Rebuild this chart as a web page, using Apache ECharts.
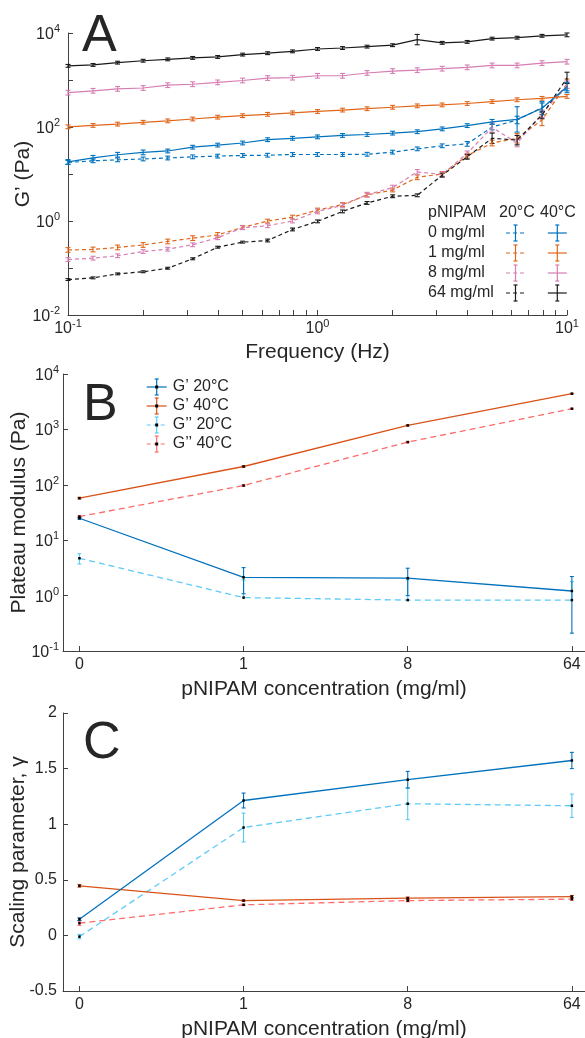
<!DOCTYPE html>
<html>
<head>
<meta charset="utf-8">
<script src="https://cdn.jsdelivr.net/npm/echarts@6/dist/echarts.min.js"></script>
<style>html,body{margin:0;padding:0;background:#fff}#main{width:585px;height:1038px}</style>
</head>
<body>
<div id="main"></div>
<script>
// ---------- panel A data : storage modulus vs frequency ----------
var freq = [0.1, 0.126, 0.158, 0.2, 0.251, 0.316, 0.398, 0.501, 0.631, 0.794, 1,
            1.26, 1.58, 2, 2.51, 3.16, 3.98, 5.01, 6.31, 7.94, 10];
var freqTicks = [0.1, 0.2, 0.3, 0.4, 0.5, 0.6, 0.7, 0.8, 0.9, 1, 2, 3, 4, 5, 6, 7, 8, 9, 10];
var freqLabels = [0.1, 1, 10];
var gTicks = [0.01, 0.1, 1, 10, 100, 1000, 10000];
var gLabels = [0.01, 1, 100, 10000];

// values (Pa), 20°C = dashed, 40°C = solid
var a0_20 = [17.6, 19.1, 20.0, 20.9, 21.9, 23.2, 24.0, 24.8, 25.1, 26.0, 26.0, 26.0, 26.3, 29.2, 34.3, 39.8, 43.7, 100, 141, 257, 676];
var a0_40 = [18.1, 22.1, 25.7, 28.8, 30.9, 37.2, 41.2, 45.7, 53.7, 57.5, 61.7, 66.1, 69.2, 74.1, 79.4, 91.2, 107, 129, 145, 251, 724];
var a1_20 = [0.242, 0.248, 0.274, 0.309, 0.367, 0.432, 0.506, 0.731, 0.995, 1.21, 1.71, 2.24, 3.58, 4.57, 8.51, 10.0, 24.5, 45.7, 57.5, 141, 832];
var a1_40 = [101, 108, 115, 126, 135, 148, 162, 174, 186, 200, 214, 229, 245, 263, 282, 295, 316, 347, 380, 407, 447];
var a8_20 = [0.151, 0.162, 0.182, 0.224, 0.251, 0.312, 0.441, 0.719, 0.794, 1.0, 1.60, 2.15, 3.63, 5.13, 11.1, 9.77, 27.5, 97.7, 45.7, 191, 794];
var a8_40 = [537, 589, 646, 676, 776, 813, 891, 977, 1100, 1120, 1230, 1230, 1410, 1550, 1620, 1740, 1860, 2040, 2040, 2290, 2450];
var a64_20 = [0.0568, 0.0617, 0.075, 0.0832, 0.0989, 0.157, 0.277, 0.355, 0.385, 0.661, 0.982, 1.60, 2.42, 3.36, 3.52, 9.42, 23.2, 57.5, 52.5, 180, 1110];
var a64_40 = [2000, 2090, 2340, 2570, 2750, 2950, 3090, 3470, 3720, 4070, 4570, 4790, 5130, 5500, 7240, 6170, 6460, 7590, 7940, 8710, 9120];

// error bar half widths (decades)
var e0_20 = [0.04, 0.04, 0.04, 0.04, 0.04, 0.04, 0.04, 0.04, 0.04, 0.04, 0.04, 0.04, 0.04, 0.04, 0.04, 0.04, 0.05, 0.06, 0.08, 0.1, 0.1];
var e0_40 = [0.05, 0.05, 0.05, 0.05, 0.04, 0.04, 0.04, 0.04, 0.04, 0.04, 0.04, 0.04, 0.04, 0.04, 0.04, 0.04, 0.04, 0.05, 0.27, 0.14, 0.09];
var e1_20 = [0.05, 0.05, 0.05, 0.05, 0.05, 0.05, 0.05, 0.04, 0.04, 0.04, 0.04, 0.04, 0.04, 0.04, 0.05, 0.05, 0.05, 0.06, 0.1, 0.12, 0.1];
var e1_40 = [0.04, 0.04, 0.04, 0.04, 0.04, 0.04, 0.04, 0.04, 0.04, 0.04, 0.04, 0.04, 0.04, 0.04, 0.04, 0.04, 0.04, 0.04, 0.04, 0.04, 0.04];
var e8_20 = [0.04, 0.04, 0.04, 0.04, 0.04, 0.04, 0.04, 0.04, 0.04, 0.04, 0.05, 0.05, 0.05, 0.05, 0.05, 0.05, 0.05, 0.1, 0.08, 0.08, 0.08];
var e8_40 = [0.05, 0.05, 0.05, 0.05, 0.05, 0.05, 0.05, 0.05, 0.05, 0.05, 0.05, 0.05, 0.05, 0.05, 0.05, 0.05, 0.05, 0.05, 0.05, 0.05, 0.05];
var e64_20 = [0.02, 0.02, 0.02, 0.02, 0.02, 0.02, 0.02, 0.02, 0.03, 0.03, 0.03, 0.03, 0.03, 0.03, 0.03, 0.04, 0.05, 0.11, 0.1, 0.08, 0.12];
var e64_40 = [0.03, 0.03, 0.03, 0.03, 0.03, 0.03, 0.03, 0.03, 0.03, 0.03, 0.03, 0.03, 0.03, 0.03, 0.11, 0.03, 0.03, 0.03, 0.03, 0.03, 0.04];

// ---------- panel B / C data : vs pNIPAM concentration ----------
var concLabels = ['0', '1', '8', '64'];
var concPos = [0, 1, 2, 3];
var bTicks = [0.1, 1, 10, 100, 1000, 10000];

var bGp20 = [24.9, 2.14, 2.06, 1.21];
var bGp20sd = [1.0, 1.06, 1.06, 1.0];
var bGp40 = [57.4, 214, 1180, 4410];
var bGp40sd = [2, 6, 25, 80];
var bGpp20 = [4.72, 0.92, 0.83, 0.83];
var bGpp20sd = [1.0, 1.0, 1.09, 0.96];
var bGpp40 = [26.7, 97, 590, 2360];
var bGpp40sd = [1, 3, 15, 50];

var cGp20 = [0.146, 1.213, 1.40, 1.573];
var cGp20e = [0.012, 0.067, 0.075, 0.073];
var cGp40 = [0.446, 0.313, 0.335, 0.349];
var cGp40e = [0.012, 0.006, 0.01, 0.01];
var cGpp20 = [-0.011, 0.97, 1.184, 1.166];
var cGpp20e = [0.02, 0.13, 0.143, 0.105];
var cGpp40 = [0.11, 0.275, 0.313, 0.326];
var cGpp40e = [0.02, 0.006, 0.01, 0.01];

// ---------- styling ----------
var FONT = '"Liberation Sans", Arial, Helvetica, sans-serif';
var TXT = '#262626';
var AX = '#404040';
var BLUE = '#0072BD', ORANGE = '#E0661A', PINK = '#D67DB3', BLACK = '#1A1A1A';
var RED = '#D95319', LBLUE = '#5CCBF5', LRED = '#FF6B6B';
var DASH = [4, 3];

var supRich = {
  b: {fontSize: 16, fontFamily: FONT, color: TXT, verticalAlign: 'bottom'},
  s: {fontSize: 11, fontFamily: FONT, color: TXT, verticalAlign: 'bottom', padding: [0, 0, 8, 0]}
};
function supLabel(v) {
  var e = Math.round(Math.log10(v));
  return '{b|10}{s|' + e + '}';
}

function zip(xs, ys) { return xs.map(function (x, i) { return [x, ys[i]]; }); }

function errSeries(idx, rows, color, cap) {
  return {
    type: 'custom', xAxisIndex: idx, yAxisIndex: idx, silent: true, z: 3,
    data: rows, encode: {x: 0, y: [1, 2]}, clip: false,
    renderItem: function (params, api) {
      var x = api.value(0), lo = api.value(1), hi = api.value(2), hasLo = api.value(3);
      var t = api.coord([x, hi]), b = api.coord([x, lo]);
      var st = {stroke: color, lineWidth: 1.1};
      var ch = [
        {type: 'line', shape: {x1: t[0], y1: t[1], x2: b[0], y2: b[1]}, style: st},
        {type: 'line', shape: {x1: t[0] - cap, y1: t[1], x2: t[0] + cap, y2: t[1]}, style: st}
      ];
      if (hasLo) ch.push({type: 'line', shape: {x1: b[0] - cap, y1: b[1], x2: b[0] + cap, y2: b[1]}, style: st});
      return {type: 'group', children: ch};
    }
  };
}

// panel A: line + log error bars
function aSeries(vals, errs, color, dashed) {
  var rows = freq.map(function (f, i) {
    var k = Math.pow(10, errs[i]);
    return [f, vals[i] / k, vals[i] * k, 1];
  });
  return [
    {type: 'line', xAxisIndex: 0, yAxisIndex: 0, data: zip(freq, vals), showSymbol: false, silent: true,
     lineStyle: {color: color, width: 1.2, type: dashed ? DASH : 'solid'}},
    errSeries(0, rows, color, 2.5)
  ];
}

// panels B/C: line + linear sd error bars + black dots
function cSeries(idx, vals, sds, color, dashed) {
  var rows = concPos.map(function (x, i) {
    var lo = vals[i] - sds[i];
    var ok = idx === 2 || lo > 0;
    return [x, ok ? lo : vals[i], vals[i] + sds[i], ok ? 1 : 0];
  });
  return [
    {type: 'line', xAxisIndex: idx, yAxisIndex: idx, data: zip(concPos, vals), silent: true,
     symbol: 'rect', symbolSize: 2.5, itemStyle: {color: '#000'},
     lineStyle: {color: color, width: 1.3, type: dashed ? [6, 4] : 'solid'}},
    errSeries(idx, rows, color, 2)
  ];
}

function axisBase() {
  return {
    axisLine: {onZero: false, lineStyle: {color: AX, width: 1}},
    splitLine: {show: false},
    nameLocation: 'middle',
    nameMoveOverlap: false,
    nameTextStyle: {fontSize: 21, fontFamily: FONT, color: TXT}
  };
}
function merge(a, b) { for (var k in b) a[k] = b[k]; return a; }

var xAxes = [
  merge(axisBase(), {type: 'log', gridIndex: 0, min: 0.1, max: 10, name: 'Frequency (Hz)', nameGap: 27,
    axisTick: {inside: true, length: 5, lineStyle: {color: AX}, customValues: freqTicks},
    axisLabel: {customValues: freqLabels, formatter: supLabel, rich: supRich, margin: 3}}),
  merge(axisBase(), {type: 'value', gridIndex: 1, min: -0.1, max: 3.08, name: 'pNIPAM concentration (mg/ml)', nameGap: 28,
    axisTick: {inside: true, length: 5, lineStyle: {color: AX}, customValues: concPos},
    axisLabel: {customValues: concPos, formatter: function (v) { return concLabels[Math.round(v)]; },
      fontSize: 16, fontFamily: FONT, color: TXT, margin: 6}}),
  merge(axisBase(), {type: 'value', gridIndex: 2, min: -0.1, max: 3.08, name: 'pNIPAM concentration (mg/ml)', nameGap: 28,
    axisTick: {inside: true, length: 5, lineStyle: {color: AX}, customValues: concPos},
    axisLabel: {customValues: concPos, formatter: function (v) { return concLabels[Math.round(v)]; },
      fontSize: 16, fontFamily: FONT, color: TXT, margin: 6}})
];
var yAxes = [
  merge(axisBase(), {type: 'log', gridIndex: 0, min: 0.01, max: 10000, name: 'G’ (Pa)', nameGap: 34,
    axisTick: {inside: true, length: 5, lineStyle: {color: AX}, customValues: gTicks},
    axisLabel: {customValues: gLabels, formatter: supLabel, rich: supRich, margin: 8}}),
  merge(axisBase(), {type: 'log', gridIndex: 1, min: 0.1, max: 10000, name: 'Plateau modulus (Pa)', nameGap: 33,
    axisTick: {inside: true, length: 5, lineStyle: {color: AX}, customValues: bTicks},
    axisLabel: {customValues: bTicks, formatter: supLabel, rich: supRich, margin: 4}}),
  merge(axisBase(), {type: 'value', gridIndex: 2, min: -0.5, max: 2, interval: 0.5, name: 'Scaling parameter, γ', nameGap: 34,
    axisTick: {inside: true, length: 5, lineStyle: {color: AX}},
    axisLabel: {fontSize: 16, fontFamily: FONT, color: TXT, margin: 6}})
];

var series = [].concat(
  aSeries(a0_20, e0_20, BLUE, true), aSeries(a1_20, e1_20, ORANGE, true),
  aSeries(a8_20, e8_20, PINK, true), aSeries(a64_20, e64_20, BLACK, true),
  aSeries(a0_40, e0_40, BLUE, false), aSeries(a1_40, e1_40, ORANGE, false),
  aSeries(a8_40, e8_40, PINK, false), aSeries(a64_40, e64_40, BLACK, false),
  cSeries(1, bGpp40, bGpp40sd, LRED, true), cSeries(1, bGpp20, bGpp20sd, LBLUE, true),
  cSeries(1, bGp40, bGp40sd, RED, false), cSeries(1, bGp20, bGp20sd, BLUE, false),
  cSeries(2, cGpp40, cGpp40e, LRED, true), cSeries(2, cGpp20, cGpp20e, LBLUE, true),
  cSeries(2, cGp40, cGp40e, RED, false), cSeries(2, cGp20, cGp20e, BLUE, false)
);

// ---------- legends & panel letters ----------
function txt(s, x, y, size, align) {
  return {type: 'text', x: x, y: y, silent: true,
    style: {text: s, font: size + 'px ' + FONT, fill: TXT, align: align || 'left', verticalAlign: 'middle'}};
}
function sym(cx, cy, hw, color, dashed, dot) {
  var st = {stroke: color, lineWidth: 1.2};
  var out = [
    {type: 'line', silent: true, shape: {x1: cx - hw, y1: cy, x2: cx + hw, y2: cy},
     style: {stroke: color, lineWidth: 1.2, lineDash: dashed ? [4, 3] : null}},
    {type: 'line', silent: true, shape: {x1: cx, y1: cy - 8, x2: cx, y2: cy + 8}, style: st},
    {type: 'line', silent: true, shape: {x1: cx - 2, y1: cy - 8, x2: cx + 2, y2: cy - 8}, style: st},
    {type: 'line', silent: true, shape: {x1: cx - 2, y1: cy + 8, x2: cx + 2, y2: cy + 8}, style: st}
  ];
  if (dot) out.push({type: 'rect', silent: true, shape: {x: cx - 1.5, y: cy - 1.5, width: 3, height: 3}, style: {fill: '#000'}});
  return out;
}

var graphics = [txt('A', 82, 37, 52), txt('B', 83, 406, 52), txt('C', 83, 744, 52)];
var aColors = [BLUE, ORANGE, PINK, BLACK];
var aRowsY = [233, 253, 273, 293];
graphics.push(txt('pNIPAM', 428, 213, 16), txt('20°C', 499, 213, 16), txt('40°C', 540, 213, 16));
concLabels.forEach(function (c, i) {
  graphics.push(txt(c + ' mg/ml', 428, aRowsY[i], 16));
  graphics = graphics.concat(sym(515.5, aRowsY[i], 9.5, aColors[i], true, false));
  graphics = graphics.concat(sym(557.3, aRowsY[i], 9.5, aColors[i], false, false));
});
var bLeg = [['G’ 20°C', BLUE, false], ['G’ 40°C', RED, false], ['G’’ 20°C', LBLUE, true], ['G’’ 40°C', LRED, true]];
var bRowsY = [387, 406, 425, 444];
bLeg.forEach(function (l, i) {
  graphics = graphics.concat(sym(156.7, bRowsY[i], 10, l[1], l[2], true));
  graphics.push(txt(l[0], 172.7, bRowsY[i], 16));
});

var myChart = echarts.init(document.getElementById('main'), null, {renderer: 'canvas'});
myChart.setOption({
  animation: false,
  backgroundColor: '#fff',
  textStyle: {fontFamily: FONT},
  grid: [
    {left: 68, top: 33, width: 499, height: 282, outerBoundsMode: 'none'},
    {left: 63, top: 374, right: 0, height: 277, outerBoundsMode: 'none'},
    {left: 63, top: 713, right: 0, height: 278, outerBoundsMode: 'none'}
  ],
  xAxis: xAxes,
  yAxis: yAxes,
  series: series,
  graphic: graphics
});
</script>
</body>
</html>
